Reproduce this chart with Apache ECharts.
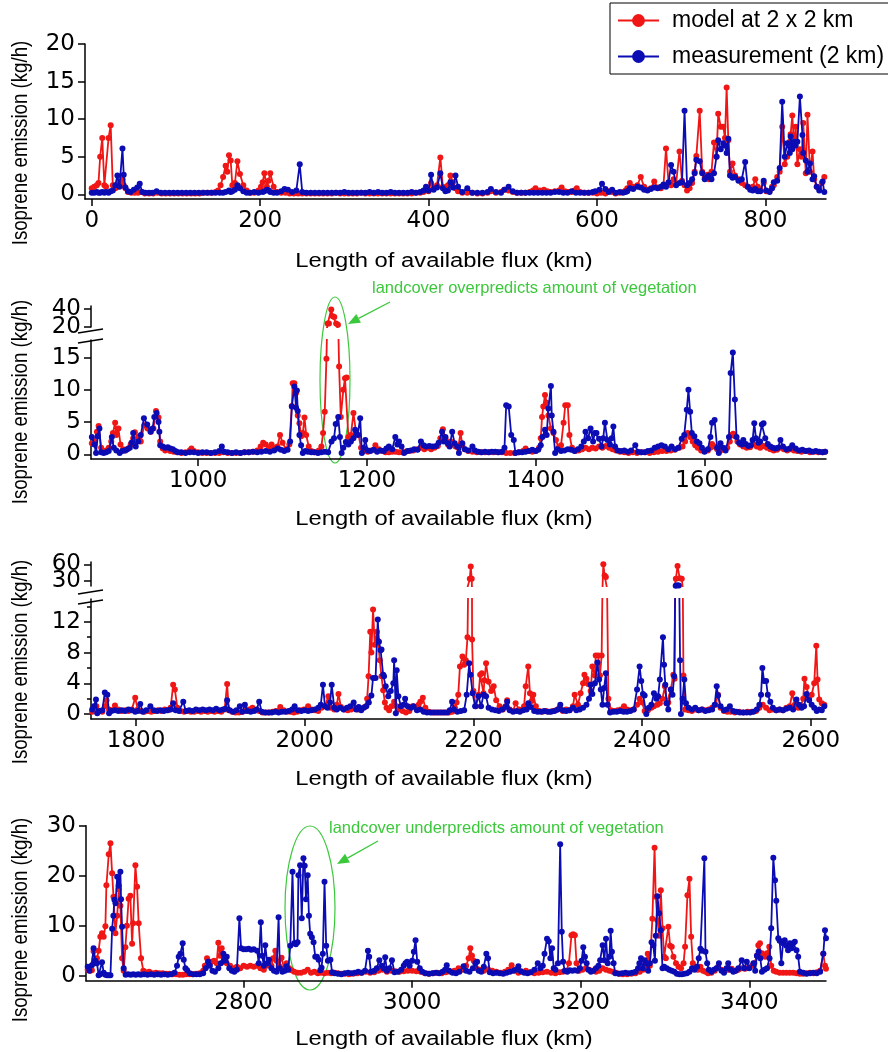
<!DOCTYPE html>
<html><head><meta charset="utf-8">
<script src="https://cdn.jsdelivr.net/npm/echarts@6/dist/echarts.min.js"></script>
<style>html,body{margin:0;padding:0;background:#fff}#c{width:888px;height:1052px}</style>
</head><body><div id="c"></div>
<script>
// ---------- data: [km, kg/h] ----------
const model1 = [[0,0.8],[3,1.0],[6,1.2],[8,1.5],[10,5.0],[12.5,7.5],[15,1.2],[17,1.0],[20,7.5],[22.5,9.2],[25,1.2],[28,0.8],[30.5,1.0],[33,1.5],[36.5,2.0],[38,1.2],[40,0.8],[43,0.3],[47,0.2],[51,0.2],[55,0.2],[59,0.3],[63,0.1],[68,0.1],[73,0.1],[78,0.2],[83,0.1],[88,0.1],[93,0.1],[98,0.1],[103,0.1],[108,0.1],[113,0.1],[118,0.1],[123,0.1],[128,0.1],[133,0.2],[138,0.2],[143,0.2],[147,0.3],[150,0.5],[153,1.2],[156,2.3],[159,3.8],[161,3.0],[163,5.2],[165,4.5],[167,1.2],[170,1.5],[173,4.4],[176,2.7],[180,1.2],[184,0.5],[188,0.2],[193,0.2],[198,0.5],[201,1.0],[203,1.6],[205,2.8],[208,1.0],[210,1.8],[212,2.8],[216,1.0],[220,0.3],[225,0.2],[230,0.2],[235,0.1],[240,0.1],[245,0.1],[250,0.1],[255,0.1],[260,0.1],[265,0.1],[270,0.1],[275,0.1],[280,0.1],[285,0.1],[290,0.2],[295,0.1],[300,0.1],[305,0.1],[310,0.1],[315,0.1],[320,0.2],[325,0.1],[330,0.1],[335,0.1],[340,0.1],[345,0.1],[350,0.1],[355,0.1],[360,0.1],[365,0.1],[370,0.1],[375,0.1],[380,0.1],[385,0.2],[390,0.2],[394,0.3],[397,0.6],[400,0.4],[403,1.5],[406,0.8],[410,1.2],[414,4.9],[417,1.0],[420,0.6],[423,1.2],[426,2.5],[429,1.6],[432,0.8],[435,0.4],[440,0.2],[446,0.2],[452,0.2],[458,0.1],[464,0.1],[470,0.2],[474,0.4],[480,0.2],[486,0.3],[490,0.6],[495,0.5],[500,0.3],[505,0.2],[510,0.2],[515,0.2],[520,0.3],[524,0.5],[527,0.8],[532,0.5],[537,0.6],[541,0.4],[545,0.3],[550,0.4],[555,0.5],[558,0.9],[562,0.4],[566,0.3],[570,0.3],[573,0.5],[576,0.8],[580,0.3],[585,0.2],[590,0.2],[595,0.2],[600,0.1],[605,0.2],[610,0.1],[614,0.4],[618,0.3],[622,0.1],[627,0.2],[631,0.3],[634,0.5],[636,0.8],[639,1.5],[643,1.0],[648,1.2],[652,2.3],[656,1.0],[660,0.6],[664,0.8],[668,1.7],[672,0.9],[676,0.8],[679,1.2],[682,6.1],[685,1.5],[688,1.2],[691,2.0],[694,1.4],[698,5.7],[701,1.8],[704,1.2],[707,0.5],[710,0.8],[713,1.5],[716,3.0],[718,5.1],[722,11.1],[725,3.0],[728,2.2],[731,2.6],[733,2.0],[736,3.0],[739,6.9],[742,5.0],[744,10.7],[747,9.0],[750,9.0],[752,7.5],[754,14.2],[756,7.2],[758,3.0],[761,4.1],[764,2.5],[768,2.0],[772,1.5],[776,1.2],[779,1.0],[782,0.8],[785,1.0],[788,2.0],[791,1.0],[794,0.6],[798,1.5],[801,0.4],[805,0.4],[808,1.0],[810,1.2],[814,2.3],[817,3.0],[820,9.0],[823,4.0],[826,5.0],[829,7.0],[830,8.0],[832,10.5],[834,6.5],[836,9.0],[838,4.0],[841,6.0],[843,5.0],[845,9.5],[848,2.8],[850,10.6],[853,3.0],[856,5.7],[858,2.0],[861,1.0],[864,0.8],[867,1.5],[870,2.3]];
const meas1 = [[0,0.2],[3,0.2],[6,0.3],[8,0.2],[10,0.2],[12.5,0.3],[15,0.2],[17,0.3],[20,0.2],[22.5,0.4],[25,0.5],[28,1.2],[30.5,2.5],[33,1.0],[36.5,6.1],[38,2.6],[40,0.9],[43,0.4],[46,0.3],[50,0.6],[54,0.9],[57,1.4],[60,0.3],[64,0.2],[68,0.2],[72,0.2],[77,0.4],[82,0.2],[87,0.2],[92,0.2],[97,0.2],[102,0.2],[107,0.2],[112,0.2],[117,0.2],[122,0.2],[127,0.2],[132,0.2],[137,0.2],[142,0.2],[147,0.2],[152,0.2],[156,0.2],[159,0.3],[163,0.5],[165,0.3],[167,0.4],[170,0.6],[173,1.2],[176,0.8],[180,0.4],[184,0.2],[188,0.2],[193,0.3],[198,0.2],[203,0.3],[205,0.4],[208,0.6],[210,0.5],[212,0.3],[216,0.2],[220,0.2],[225,0.4],[229,0.7],[233,0.6],[238,0.3],[243,0.5],[247,4.0],[250,0.3],[255,0.2],[260,0.2],[265,0.2],[270,0.2],[275,0.2],[280,0.2],[285,0.2],[290,0.2],[295,0.2],[300,0.3],[305,0.2],[310,0.2],[315,0.2],[320,0.2],[325,0.2],[330,0.3],[335,0.2],[340,0.3],[345,0.2],[350,0.2],[355,0.3],[360,0.2],[365,0.2],[370,0.2],[375,0.2],[380,0.3],[385,0.2],[390,0.3],[394,0.5],[397,1.0],[400,0.5],[403,2.6],[406,0.6],[410,0.9],[414,2.8],[417,0.8],[420,0.4],[423,0.5],[426,1.6],[429,0.9],[432,2.5],[435,1.0],[440,0.3],[446,0.8],[452,0.2],[458,0.2],[464,0.2],[470,0.3],[474,0.7],[480,0.3],[486,0.2],[490,0.6],[495,1.0],[500,0.4],[505,0.2],[510,0.2],[515,0.2],[520,0.2],[525,0.2],[530,0.2],[535,0.2],[540,0.2],[545,0.2],[550,0.3],[555,0.3],[560,0.2],[565,0.2],[570,0.4],[575,0.2],[580,0.2],[585,0.2],[590,0.2],[595,0.3],[598,0.4],[603,0.6],[606,1.4],[610,0.7],[614,0.3],[618,0.6],[622,0.2],[627,0.3],[631,0.2],[634,0.3],[636,0.4],[639,0.8],[643,0.7],[648,1.0],[652,0.9],[656,0.6],[660,0.5],[664,0.7],[668,0.9],[672,0.8],[676,1.0],[679,1.3],[682,1.0],[685,1.6],[688,3.9],[691,3.0],[694,1.2],[698,1.5],[701,1.6],[704,11.1],[707,1.2],[710,1.5],[713,2.0],[716,2.8],[718,4.6],[722,4.4],[725,2.8],[728,2.0],[731,2.3],[733,2.5],[736,2.0],[739,2.8],[742,5.0],[744,7.2],[747,6.0],[750,6.8],[752,6.5],[754,5.5],[756,7.4],[758,2.5],[761,2.2],[764,2.3],[768,1.8],[772,2.0],[776,4.3],[779,1.0],[782,0.6],[785,0.5],[788,0.7],[791,0.4],[794,0.4],[798,1.8],[801,0.5],[805,0.3],[808,0.8],[810,1.6],[814,1.8],[817,3.5],[820,12.3],[823,5.0],[826,6.8],[829,5.5],[830,7.7],[832,6.0],[834,7.0],[836,6.5],[838,7.0],[841,13.0],[844,7.9],[845,5.5],[848,4.5],[850,3.0],[853,4.1],[856,2.0],[858,2.4],[861,1.0],[864,0.5],[868,1.7],[870,0.3]];

const model2 = [[874,1.7],[877,2.0],[880,3.5],[882,4.4],[885,1.0],[888,0.5],[891,0.6],[894,1.0],[897,2.0],[899,3.3],[901.6,4.9],[903,3.0],[905.5,4.0],[908,1.5],[911,0.8],[914,0.6],[917,0.9],[920,1.5],[923,2.5],[925,3.4],[929,2.7],[932,2.0],[936,4.5],[940,4.0],[944,3.5],[947,4.0],[950,6.7],[953,5.7],[955,2.0],[958,0.9],[961,0.6],[964,0.8],[967,0.5],[971,0.4],[975,0.3],[980,0.2],[985,0.3],[990,0.6],[992,0.9],[995,0.5],[1000,0.3],[1005,0.2],[1010,0.2],[1015,0.2],[1020,0.2],[1025,0.2],[1030,0.3],[1035,0.2],[1040,0.2],[1045,0.2],[1050,0.2],[1055,0.3],[1060,0.3],[1065,0.4],[1070,0.6],[1074,1.2],[1077,1.8],[1080,1.5],[1084,1.0],[1087,1.5],[1090,1.0],[1094,1.2],[1097,3.0],[1100,1.8],[1104,0.8],[1108,1.5],[1111,7.5],[1112,11.0],[1114,11.0],[1116,9.5],[1118,6.0],[1120,4.8],[1122,2.8],[1124,3.3],[1126,5.7],[1128,3.0],[1131,1.2],[1134,0.5],[1137,0.3],[1140,0.3],[1143,0.6],[1146,1.2],[1148,3.3],[1150,6.6],[1152,14.8],[1153.5,24],[1155,24],[1157.7,39.5],[1159.5,32],[1161.3,31],[1163.5,24],[1165.6,22.5],[1167,13.6],[1169,5.8],[1172,10],[1174,11.8],[1176,11.9],[1178,2.7],[1181,3.0],[1184,6.4],[1187,3.5],[1190,3.0],[1193,1.0],[1197,0.5],[1201,0.4],[1205,0.6],[1210,1.4],[1214,0.8],[1218,0.5],[1222,0.3],[1226,0.3],[1230,0.4],[1234,0.4],[1238,0.3],[1242,0.3],[1246,0.4],[1250,0.5],[1255,0.6],[1260,0.8],[1264,1.0],[1268,0.8],[1272,1.0],[1276,0.8],[1280,1.0],[1284,1.3],[1287,2.5],[1290,3.9],[1293,2.5],[1296,1.5],[1299,2.0],[1302,1.5],[1305,1.2],[1308,1.0],[1311,3.3],[1313,1.4],[1316,0.8],[1320,0.5],[1325,0.4],[1330,0.3],[1335,0.3],[1340,0.3],[1345,0.3],[1350,0.3],[1355,0.3],[1360,0.3],[1365,0.2],[1370,0.2],[1375,0.2],[1380,0.3],[1385,0.5],[1388,0.9],[1392,0.5],[1396,0.4],[1400,0.5],[1404,1.0],[1406,2.5],[1407.5,5.8],[1409,7.4],[1411,9.2],[1413,8.0],[1415,6.0],[1418,4.0],[1421,3.3],[1424,2.2],[1427,1.0],[1430,1.4],[1433,4.9],[1435,7.6],[1438,7.6],[1440,3.0],[1443,1.0],[1447,0.5],[1451,0.6],[1455,0.8],[1459,1.0],[1463,0.8],[1467,1.0],[1471,0.9],[1475,1.2],[1479,1.0],[1483,1.3],[1487,1.0],[1491,0.8],[1495,0.6],[1500,0.4],[1505,0.3],[1510,0.2],[1515,0.3],[1520,0.2],[1525,0.3],[1530,0.3],[1535,0.2],[1540,0.3],[1545,0.4],[1550,0.5],[1555,0.5],[1560,0.6],[1565,0.7],[1570,1.0],[1574,1.2],[1577,2.0],[1580,3.3],[1583,2.7],[1586,2.0],[1589,1.4],[1592,1.0],[1596,0.6],[1600,0.5],[1604,0.6],[1607,1.0],[1609,1.6],[1612,1.2],[1615,0.8],[1619,0.6],[1623,0.8],[1627,1.0],[1630,2.0],[1632,3.0],[1634,3.2],[1636,2.8],[1639,2.0],[1642,1.5],[1646,1.2],[1650,1.0],[1654,1.1],[1658,1.5],[1662,1.2],[1666,1.0],[1670,1.3],[1674,1.0],[1678,0.8],[1682,0.6],[1686,0.7],[1690,1.0],[1694,0.8],[1698,0.6],[1702,0.8],[1706,0.6],[1710,0.5],[1715,0.4],[1720,0.5],[1725,0.3],[1730,0.4],[1735,0.3],[1740,0.3],[1743,0.4]];
const meas2 = [[874,2.7],[877,1.5],[879,0.2],[881,2.8],[883,4.0],[885,0.3],[888,0.2],[891,0.3],[894,0.5],[897.7,2.7],[900,1.0],[903,0.6],[907,0.2],[910,0.5],[913,0.6],[916,0.8],[919,1.0],[921,1.8],[923,3.3],[926,1.2],[929,2.0],[932,3.0],[935.7,5.6],[939.6,4.6],[943.5,3.5],[946,4.0],[948,5.8],[950.8,6.4],[953,5.0],[954,3.5],[955,1.4],[958,1.2],[961,1.0],[964,1.1],[967,0.9],[970,0.8],[973,0.5],[976,0.3],[980,0.3],[985,0.2],[990,0.3],[995,0.3],[1000,0.2],[1005,0.3],[1010,0.3],[1015,0.2],[1020,0.3],[1025,0.5],[1028,1.2],[1031,0.4],[1035,0.3],[1040,0.2],[1045,0.3],[1050,0.2],[1055,0.3],[1060,0.3],[1065,0.4],[1070,0.3],[1075,0.4],[1080,0.5],[1085,0.4],[1090,0.6],[1094,0.9],[1098,0.7],[1102,0.5],[1106,0.7],[1109,2.0],[1111,7.4],[1114,10.5],[1116,7.2],[1117,9.9],[1118,6.7],[1120,3.0],[1122,1.4],[1124,0.2],[1127,0.5],[1130,0.4],[1134,0.3],[1138,0.3],[1142,0.2],[1146,0.3],[1150,0.4],[1154,0.3],[1158,2.0],[1161,2.5],[1163,4.7],[1166,5.8],[1168,2.7],[1170,0.2],[1172,1.0],[1175,1.9],[1178,1.5],[1181,2.0],[1184,2.5],[1186,3.8],[1189,3.0],[1192,5.6],[1194,0.2],[1196,1.0],[1198,2.2],[1201,0.6],[1204,0.5],[1208,0.7],[1212,0.4],[1216,0.6],[1220,0.5],[1223,0.9],[1226,1.2],[1230,0.8],[1233.6,2.7],[1236,1.5],[1238,2.0],[1241,1.2],[1244,0.2],[1248,0.5],[1252,0.6],[1256,0.8],[1260,0.7],[1264,2.0],[1267,1.4],[1270,1.2],[1274,1.3],[1278,1.2],[1282,1.3],[1285,1.8],[1289,3.5],[1291,2.0],[1293,2.7],[1296,1.7],[1298,1.2],[1301,3.5],[1304,1.7],[1307,1.2],[1309,0.2],[1313,1.7],[1316,0.8],[1320,0.6],[1325,1.2],[1328,0.6],[1332,0.4],[1336,0.3],[1340,0.4],[1344,0.3],[1348,0.4],[1352,0.4],[1356,0.3],[1360,0.4],[1363,1.0],[1365,7.6],[1368,7.4],[1371,3.0],[1374,2.2],[1376,0.2],[1380,0.3],[1384,0.3],[1388,0.4],[1392,0.5],[1396,0.7],[1400,0.5],[1403,0.7],[1406,1.4],[1408,2.7],[1411,3.8],[1413,3.0],[1415,7.1],[1418,10.6],[1419,6.0],[1421,3.5],[1423,0.2],[1426,0.8],[1430,0.5],[1434,0.6],[1438,0.8],[1442,0.7],[1446,0.5],[1450,0.8],[1454,1.2],[1457,2.0],[1459,3.5],[1462,2.5],[1465,4.0],[1468,2.0],[1470,3.3],[1472,3.3],[1475,2.4],[1478,1.2],[1480,2.5],[1482,4.9],[1485,2.2],[1488,1.5],[1490,2.5],[1492,4.3],[1494,1.2],[1497,0.6],[1501,0.5],[1505,0.6],[1509,0.4],[1513,0.6],[1518,1.4],[1521,0.4],[1525,0.3],[1529,0.3],[1533,0.5],[1537,0.6],[1541,1.0],[1545,1.2],[1549,1.4],[1553,1.2],[1557,0.8],[1561,1.2],[1565,0.8],[1569,1.0],[1573,2.4],[1576,3.0],[1579,6.9],[1581,10.0],[1583,6.6],[1585,3.3],[1588,2.8],[1591,2.0],[1594,1.7],[1597,1.0],[1600,0.4],[1604,0.8],[1607,2.7],[1609,4.9],[1612,5.3],[1615,1.0],[1617,0.2],[1619,1.7],[1622,1.0],[1625,0.6],[1629,2.7],[1631,12.6],[1633.6,15.8],[1636,8.5],[1638,2.7],[1641,1.8],[1644,1.5],[1646,2.2],[1649,1.6],[1652,1.3],[1655,1.4],[1657,2.2],[1659,4.8],[1661,2.5],[1664,1.8],[1666,2.0],[1668,4.6],[1670,4.8],[1672,2.5],[1675,1.6],[1678,1.2],[1681,1.0],[1684,0.9],[1687,1.0],[1690,2.2],[1693,1.2],[1697,0.8],[1701,0.9],[1704,1.4],[1708,0.9],[1712,0.6],[1716,0.7],[1720,0.5],[1724,0.6],[1728,0.4],[1732,0.5],[1736,0.4],[1740,0.3],[1743,0.4]];

const model3 = [[1748,0.3],[1751,0.5],[1753,1.0],[1756,0.4],[1760,0.3],[1763,1.0],[1765,1.8],[1768,0.6],[1771,0.5],[1775,1.1],[1779,0.6],[1783,0.4],[1787,0.5],[1791,0.4],[1795,0.6],[1799,2.1],[1802,0.6],[1806,0.4],[1810,0.3],[1814,0.4],[1818,0.3],[1822,0.4],[1826,0.5],[1830,0.4],[1834,0.6],[1838,0.5],[1841,0.8],[1844,3.8],[1846,3.2],[1849,0.8],[1853,0.4],[1857,0.3],[1861,0.4],[1865,0.3],[1869,0.3],[1873,0.4],[1877,0.3],[1881,0.4],[1885,0.3],[1889,0.4],[1893,0.3],[1897,0.4],[1901,0.3],[1905,0.6],[1908,3.9],[1910,0.5],[1914,0.3],[1918,0.2],[1922,0.2],[1926,0.3],[1930,0.4],[1934,0.6],[1938,0.8],[1942,0.5],[1946,0.4],[1950,0.2],[1954,0.2],[1958,0.2],[1962,0.3],[1966,0.4],[1971,0.9],[1975,0.5],[1979,0.3],[1983,0.3],[1987,0.2],[1991,0.3],[1995,0.5],[1999,0.6],[2004,1.0],[2008,0.6],[2012,0.5],[2016,0.4],[2020,0.8],[2024,1.0],[2028,2.3],[2031,0.8],[2035,0.6],[2038,1.2],[2040,2.6],[2043,0.9],[2047,0.6],[2051,0.5],[2055,0.6],[2059,0.8],[2063,0.6],[2067,0.7],[2071,0.9],[2074,2.0],[2075.7,4.9],[2077.7,10.7],[2079,8.0],[2081,13.6],[2083,9.0],[2085.6,10.7],[2087,9.5],[2089,7.0],[2091,4.9],[2093,3.1],[2095,1.5],[2097,0.8],[2100,0.5],[2103,1.0],[2106,1.6],[2109,1.0],[2112,0.6],[2116,0.4],[2120,0.2],[2124,0.4],[2128,1.0],[2132,0.8],[2135,1.2],[2137,1.6],[2140,2.1],[2143,0.8],[2147,0.3],[2151,0.2],[2155,0.2],[2159,0.2],[2163,0.2],[2167,0.2],[2171,0.2],[2175,0.3],[2178,0.8],[2180,1.5],[2182,2.5],[2184,6.2],[2187,7.5],[2189,6.4],[2191,7.0],[2193,10.0],[2195.7,34],[2196.8,56],[2198,34],[2198.4,9.7],[2200,3.0],[2203,1.0],[2206,2.5],[2208,5.1],[2210,5.3],[2212,2.7],[2213,4.4],[2215,6.6],[2218,4.2],[2221,3.0],[2224,3.6],[2227,1.8],[2231,1.0],[2235,0.6],[2238,1.0],[2240,1.8],[2243,0.6],[2247,0.4],[2250,1.4],[2254,0.6],[2258,0.5],[2260,1.0],[2262,3.6],[2265,6.2],[2267,2.7],[2269,1.7],[2271,2.5],[2274,1.0],[2278,0.4],[2282,0.3],[2286,0.4],[2290,0.3],[2294,0.4],[2298,0.5],[2302,0.8],[2306,0.4],[2310,0.6],[2314,0.5],[2318,1.0],[2320,2.5],[2324,1.2],[2327,2.7],[2330,4.0],[2331.6,5.1],[2334,4.6],[2336,3.9],[2339,3.0],[2341,6.2],[2344,5.0],[2345,7.6],[2348,7.6],[2350,5.0],[2352,7.6],[2353,16.6],[2354,60],[2355.5,40],[2357,37],[2358.5,16],[2360,2.0],[2363,0.5],[2367,0.4],[2371,0.5],[2375,0.6],[2378.5,1.0],[2382,0.6],[2386,0.5],[2390,0.6],[2394,1.2],[2397,2.0],[2400,1.5],[2403,0.4],[2407,0.5],[2411,0.8],[2414,1.0],[2418,1.2],[2421,1.4],[2424,2.0],[2427,3.6],[2429,1.4],[2431,1.5],[2434,3.2],[2437,5.1],[2438.5,4.6],[2440,34],[2442,57],[2444.5,35],[2447,34],[2449,5],[2451,0.6],[2455,0.5],[2459,0.4],[2463,0.6],[2467,0.5],[2471,0.6],[2475,0.5],[2479,0.6],[2483,0.8],[2487,1.2],[2490,2.5],[2493,0.8],[2497,0.4],[2501,0.3],[2505,0.3],[2510,0.2],[2515,0.3],[2520,0.2],[2525,0.3],[2530,0.3],[2535,0.4],[2539,0.8],[2543,1.2],[2547,0.8],[2551,0.5],[2555,0.6],[2559,0.5],[2563,0.6],[2567,0.5],[2571,0.8],[2575,1.0],[2578,2.7],[2581,1.2],[2585,0.8],[2588,1.0],[2591,2.0],[2592.5,4.6],[2595,3.5],[2598,2.0],[2601,2.5],[2604,4.0],[2606.5,8.9],[2608,4.5],[2610,1.9],[2613,1.4],[2616,1.2]];
const meas3 = [[1748,0.6],[1750,1.0],[1752.5,1.9],[1754,0.1],[1757,0.4],[1760,0.5],[1763,2.8],[1766,2.5],[1768,0.1],[1771,0.4],[1775,0.5],[1779,0.4],[1783,0.5],[1787,0.4],[1791,0.6],[1795,0.5],[1799,0.3],[1802,0.4],[1805,1.3],[1808,0.3],[1812,0.5],[1817,1.0],[1821,0.5],[1825,0.4],[1829,0.5],[1833,0.4],[1837,0.5],[1841,0.6],[1844,1.4],[1847,0.5],[1851,0.4],[1856,1.6],[1859,0.4],[1863,0.5],[1867,0.4],[1871,0.6],[1875,0.5],[1879,0.6],[1883,0.5],[1887,0.6],[1891,0.5],[1895,0.7],[1899,0.5],[1903,0.6],[1906,0.7],[1908,1.8],[1911,0.5],[1915,0.3],[1919,0.5],[1923,1.0],[1926,0.3],[1929,1.2],[1932,0.4],[1936,0.3],[1940,0.4],[1943,0.6],[1946,1.6],[1949,0.3],[1953,0.2],[1957,0.2],[1961,0.2],[1965,0.3],[1969,0.2],[1973,0.3],[1977,0.3],[1981,0.4],[1985,0.6],[1988,1.0],[1992,0.5],[1996,0.4],[2000,0.5],[2004,0.4],[2008,0.5],[2012,0.6],[2016,0.8],[2019,1.2],[2021.6,3.8],[2024,1.0],[2027,0.8],[2030,1.5],[2032,3.8],[2035,0.8],[2038,0.6],[2042,0.8],[2046,0.6],[2050,0.8],[2054,1.0],[2058,1.5],[2061,0.6],[2064,0.9],[2067,0.5],[2070,0.8],[2073,1.0],[2076,1.5],[2079,2.4],[2081,4.7],[2084,4.7],[2086.6,12.3],[2088,9.4],[2090,8.3],[2091,8.4],[2093,5.1],[2094,4.9],[2096,3.6],[2099,2.3],[2102,3.0],[2105,4.0],[2106,7.0],[2108,0.1],[2109,5.7],[2111,2.3],[2114,1.0],[2117,1.2],[2119,2.0],[2122,1.0],[2126,0.8],[2129,1.0],[2133,0.5],[2137,0.6],[2141,0.3],[2145,0.2],[2149,0.2],[2153,0.2],[2157,0.2],[2161,0.2],[2165,0.2],[2169,0.2],[2172,0.5],[2174.7,1.6],[2177,0.6],[2181,0.3],[2185,0.4],[2189,0.5],[2192,2.5],[2195,6.6],[2196.5,5.1],[2199,2.7],[2202,1.0],[2206,2.3],[2209,1.0],[2212,2.5],[2215,2.3],[2218,0.8],[2222,0.6],[2226,0.5],[2230,0.4],[2234,0.6],[2238,0.9],[2240,1.6],[2243,0.5],[2247,0.3],[2251,0.4],[2255,0.3],[2259,0.5],[2263,0.6],[2265,1.4],[2268,0.9],[2272,0.4],[2276,0.3],[2280,0.3],[2284,0.4],[2288,0.3],[2292,0.3],[2296,0.4],[2300,0.6],[2303,1.2],[2306,0.5],[2310,0.4],[2314,0.5],[2318,0.8],[2322,0.5],[2326,0.6],[2330,0.8],[2334,1.2],[2337,2.0],[2339,3.8],[2341,2.6],[2344,4.0],[2347,6.7],[2349,4.5],[2351,3.2],[2353,1.2],[2355,3.4],[2357,5.3],[2359,1.2],[2362,0.2],[2366,0.3],[2370,0.3],[2374,0.4],[2378,0.3],[2382,0.3],[2386,0.4],[2390,0.6],[2394,3.2],[2397,6.2],[2399,4.3],[2401,2.6],[2403,2.4],[2405,0.0],[2408,0.8],[2411,1.2],[2414,2.7],[2417,2.0],[2419,2.3],[2421,4.5],[2424.7,10.0],[2426,6.4],[2427.5,3.8],[2429,1.4],[2431,0.6],[2434,3.2],[2436,2.5],[2438,4.9],[2439.8,21.5],[2441.7,22.5],[2443.5,22],[2445,7.0],[2446,0.0],[2448,2.0],[2450,4.5],[2452,1.4],[2455,0.8],[2459,0.6],[2463,0.8],[2467,0.5],[2471,0.6],[2475,0.4],[2479,0.5],[2483,0.6],[2486,1.2],[2488.4,3.6],[2490,2.4],[2493,1.0],[2497,0.5],[2500,0.6],[2504,1.0],[2508,0.4],[2512,0.3],[2516,0.2],[2520,0.2],[2524,0.2],[2528,0.2],[2532,0.3],[2536,0.6],[2539,1.2],[2541,2.5],[2542.6,6.0],[2544.5,4.3],[2547,4.3],[2549,2.5],[2552,1.6],[2555,0.8],[2559,0.5],[2563,0.6],[2567,0.5],[2571,0.7],[2575,0.8],[2579,0.6],[2583,1.9],[2586,1.2],[2589,0.8],[2592,1.0],[2595,2.6],[2598,1.8],[2601,1.2],[2604,0.8],[2607,0.4],[2610,0.6],[2613,0.5],[2616,1.0]];

const model4 = [[2615,1.2],[2618,1.0],[2620,1.1],[2622,4.9],[2624,2.5],[2626,3.5],[2628,5.0],[2630,7.8],[2632,8.5],[2634,7.8],[2636,9.9],[2637.2,18.1],[2640,24.3],[2642,26.5],[2644,20.5],[2645.6,15.8],[2647.9,8.5],[2650,12.0],[2651.8,17.3],[2653.8,14.0],[2655.8,3.5],[2657.7,1.0],[2659.7,5.7],[2661.5,10.0],[2663.6,15.4],[2665.6,16.0],[2667.7,6.4],[2668.9,10.5],[2671.6,22.1],[2673.6,17.8],[2675.5,10.5],[2678.3,3.5],[2681,1.0],[2684,0.7],[2688,0.8],[2692,0.5],[2696,0.6],[2700,0.5],[2704,0.5],[2708,0.4],[2712,0.4],[2716,0.3],[2720,0.3],[2724,0.2],[2728,0.2],[2732,0.3],[2736,0.3],[2740,0.3],[2744,0.4],[2748,0.5],[2752,1.0],[2754,2.0],[2756.6,3.5],[2759,2.5],[2762,2.8],[2765,3.0],[2768,2.5],[2770,6.6],[2772,4.0],[2774,5.5],[2777,2.8],[2780,2.5],[2784,2.0],[2788,1.5],[2792,1.8],[2796,1.5],[2800,2.0],[2804,1.8],[2808,2.0],[2812,1.8],[2816,2.0],[2820,1.5],[2824,1.2],[2827,2.0],[2830,3.0],[2833,2.0],[2835,3.5],[2837.6,5.0],[2839,3.0],[2842,2.0],[2845,3.6],[2848,1.5],[2851,2.5],[2854,1.5],[2857,1.1],[2860,0.8],[2864,0.6],[2868,0.6],[2872,0.8],[2876,1.2],[2880,0.6],[2884,0.8],[2888,0.5],[2892,0.6],[2896,0.5],[2900,0.6],[2904,0.5],[2908,0.6],[2912,0.5],[2916,0.4],[2920,0.4],[2925,0.3],[2930,0.4],[2935,0.5],[2940,0.6],[2945,0.8],[2950,0.6],[2955,0.7],[2960,1.0],[2965,1.2],[2970,0.8],[2975,1.0],[2980,0.9],[2985,0.8],[2990,0.9],[2995,1.0],[3000,1.0],[3005,0.9],[3010,0.8],[3015,0.5],[3020,0.4],[3025,0.5],[3030,0.6],[3035,0.5],[3040,0.7],[3045,0.8],[3050,1.0],[3055,1.5],[3060,1.2],[3064,2.0],[3067,3.5],[3069,5.5],[3071,4.0],[3073,3.0],[3076,1.5],[3080,1.2],[3085,1.0],[3090,1.3],[3095,1.0],[3100,0.8],[3105,0.6],[3110,0.8],[3114,1.2],[3118,2.1],[3122,1.0],[3126,0.6],[3130,0.8],[3135,1.0],[3140,0.7],[3145,0.5],[3150,0.6],[3155,0.7],[3160,0.8],[3165,0.6],[3170,0.5],[3175,0.7],[3179,0.8],[3183,1.0],[3186,2.5],[3189,8.1],[3191,8.3],[3193,8.1],[3195,2.5],[3198,1.0],[3202,1.2],[3206,1.5],[3210,1.2],[3214,1.0],[3218,0.8],[3222,1.0],[3226,1.5],[3230,1.2],[3234,1.0],[3238,0.8],[3242,0.6],[3246,0.4],[3250,0.3],[3255,0.3],[3260,0.4],[3265,0.5],[3270,0.8],[3274,1.2],[3277,2.0],[3279.5,4.4],[3282,2.0],[3285,11.4],[3287.6,25.6],[3289,15.8],[3291,11.1],[3293,8.0],[3295,17.1],[3297,9.5],[3299,3.8],[3301,3.5],[3304,9.8],[3306,6.0],[3308,5.8],[3310,3.8],[3313,2.5],[3316,1.8],[3319,1.5],[3322,2.5],[3323.8,5.8],[3326.6,16.1],[3329,19.4],[3331,7.8],[3333,2.5],[3336,1.5],[3339,1.2],[3342,1.8],[3345,1.0],[3348,0.8],[3351,0.5],[3355,0.6],[3359,1.0],[3363,1.8],[3367,1.2],[3371,1.0],[3375,1.2],[3379,1.4],[3383,1.0],[3387,1.2],[3391,1.5],[3395,1.4],[3399,1.6],[3403,2.0],[3406,2.5],[3409,4.0],[3410.7,6.1],[3412.7,6.5],[3415,4.5],[3418.6,3.8],[3421,4.5],[3423.7,5.8],[3426,2.0],[3429,1.0],[3432,0.8],[3436,0.6],[3440,0.6],[3444,0.6],[3448,0.6],[3452,0.6],[3456,0.5],[3460,0.4],[3464,0.4],[3468,0.5],[3472,0.6],[3476,0.5],[3480,0.7],[3484,1.0],[3487.8,4.4],[3489.8,2.0],[3491,1.4]];
const meas4 = [[2615,1.8],[2617,1.0],[2620,2.1],[2622,5.5],[2624,3.0],[2626,2.5],[2628,0.1],[2630,0.3],[2632,2.7],[2634,0.6],[2636,0.2],[2638,0.1],[2640,0.1],[2642,0.1],[2644,9.4],[2645.5,12.0],[2646.7,15.2],[2648,14.5],[2650,19.8],[2651.8,18.0],[2653.8,20.8],[2654.6,15.3],[2655.8,9.8],[2657.7,1.5],[2660,0.2],[2663,0.3],[2666,0.2],[2669,0.3],[2672,0.2],[2675,0.3],[2678,0.2],[2682,0.3],[2686,0.2],[2690,0.3],[2694,0.2],[2698,0.3],[2702,0.2],[2706,0.3],[2710,0.2],[2714,0.3],[2718,0.6],[2721,2.0],[2723,3.8],[2725,4.4],[2727.7,6.5],[2729,3.2],[2731,1.5],[2733,1.1],[2736,0.5],[2740,0.3],[2744,0.3],[2748,0.3],[2752,0.5],[2755,1.5],[2758,2.8],[2760,2.0],[2763,1.0],[2766,0.8],[2770,1.5],[2773,2.5],[2776,4.4],[2778,3.0],[2780,3.8],[2783,1.5],[2786,1.0],[2789,0.8],[2792,1.2],[2795,11.5],[2797,5.5],[2800,5.3],[2803,5.3],[2806,5.4],[2809,5.2],[2812,5.3],[2816,5.0],[2818,2.5],[2820.4,10.7],[2822,4.0],[2824,2.0],[2825.7,6.1],[2828,2.5],[2830,3.2],[2833,1.5],[2836,1.0],[2839,0.8],[2841.5,11.7],[2843,1.5],[2846,0.8],[2849,1.0],[2851,1.9],[2853,1.2],[2855.4,6.0],[2858,20.8],[2860,6.5],[2862,6.3],[2864,6.7],[2865,20.1],[2867,22.1],[2869,11.5],[2871,23.5],[2872.5,22.0],[2874,15.3],[2876,20.1],[2877.5,12.0],[2879,8.4],[2881,7.7],[2883,6.7],[2885,3.8],[2887,3.8],[2889,3.2],[2891,1.1],[2892.5,1.6],[2894,4.4],[2896,18.8],[2898,6.0],[2900,3.0],[2903,3.2],[2905,0.7],[2908,0.5],[2912,0.4],[2916,0.3],[2920,0.5],[2924,0.6],[2928,0.5],[2932,0.6],[2936,0.8],[2940,0.6],[2944,1.0],[2947.5,5.0],[2949,3.8],[2951,0.8],[2955,1.0],[2958,1.5],[2961,3.1],[2964,2.0],[2966,1.5],[2968,3.7],[2970,1.0],[2973,1.5],[2976,3.1],[2979,0.7],[2983,0.8],[2987,1.2],[2990,2.0],[2992,2.5],[2994,2.8],[2997,2.0],[3000,3.0],[3002,4.8],[3004,7.1],[3006,2.8],[3009,1.5],[3012,0.8],[3016,0.5],[3020,0.4],[3024,0.5],[3028,0.6],[3032,0.5],[3036,0.8],[3039,1.2],[3041,2.1],[3044,1.0],[3048,0.6],[3052,0.5],[3056,0.8],[3061,1.9],[3064,1.0],[3068,0.8],[3072,1.5],[3075,2.5],[3077,2.8],[3079,1.0],[3082,0.8],[3085,1.8],[3088,4.4],[3090,3.5],[3092,0.7],[3096,0.5],[3100,0.6],[3104,0.5],[3108,0.4],[3112,0.6],[3116,0.8],[3120,1.0],[3123,1.2],[3126,1.9],[3129,0.9],[3133,0.6],[3137,0.5],[3141,0.7],[3145,1.2],[3149,2.5],[3152,1.5],[3155,2.0],[3157,4.4],[3160,7.4],[3162,6.9],[3164,3.5],[3166,5.5],[3168,1.5],[3170,1.2],[3173,2.5],[3175.6,26.3],[3177.5,8.8],[3179,2.8],[3181,1.0],[3184,0.8],[3187,1.1],[3190,1.0],[3193,1.1],[3196,1.0],[3199,1.5],[3201,3.0],[3203,5.7],[3205,3.8],[3207,2.5],[3209,1.2],[3212,0.8],[3215,1.0],[3218,1.5],[3221,2.0],[3223,3.1],[3226,6.1],[3228,3.1],[3230,7.4],[3232,2.5],[3234,3.8],[3235.5,9.0],[3237,4.8],[3239,2.5],[3241,0.5],[3245,0.4],[3249,0.5],[3253,0.6],[3257,0.5],[3261,0.6],[3265,0.8],[3268,1.5],[3269.6,2.5],[3271.5,3.5],[3273.5,1.5],[3276,3.1],[3278,2.5],[3280,1.0],[3282,2.5],[3284,6.7],[3286,6.1],[3288,3.0],[3289,8.0],[3291,15.9],[3293,12.5],[3295,9.1],[3297,1.5],[3299,1.8],[3302,1.5],[3305,1.2],[3308,1.0],[3311,0.8],[3314,0.4],[3317,0.3],[3320,0.3],[3323,0.4],[3326,0.5],[3329,0.8],[3332,1.5],[3335,1.2],[3338,1.8],[3340,3.5],[3342,5.4],[3344,5.0],[3346.7,23.5],[3348,4.8],[3350,2.5],[3352,1.2],[3355,0.8],[3358,1.2],[3361,1.5],[3364,2.5],[3367,1.0],[3370,0.6],[3373,1.5],[3375,2.5],[3378,1.2],[3381,0.8],[3384,1.0],[3387,1.5],[3391,3.1],[3394,1.5],[3397,2.8],[3400,1.5],[3404.8,2.5],[3407,1.0],[3409,4.0],[3411,4.8],[3413,3.5],[3415,0.8],[3418,1.2],[3421,1.5],[3424,3.5],[3426,9.5],[3428.5,23.6],[3430.5,19.1],[3432,15.0],[3434.4,7.5],[3436,7.0],[3438,2.5],[3440,6.5],[3442,7.1],[3444,6.0],[3446,5.1],[3448,6.5],[3450,5.5],[3452,6.5],[3454,6.8],[3456,5.1],[3458,3.8],[3460,0.8],[3464,0.6],[3468,0.4],[3472,0.5],[3476,0.6],[3480,0.5],[3484,0.8],[3487.8,4.4],[3489.8,9.1],[3491,7.5]];

// ---------- ticks / labels ----------
const xTicks1 = [0,200,400,600,800];
const yTicks1 = [0,5,10,15,20];
const xTicks2 = [1000,1200,1400,1600];
const yTicks2Low = [0,5,10,15];
const yTicks2Top = [40];
const yTicks2Mid = [20];
const xTicks3 = [1800,2000,2200,2400,2600];
const yTicks3Low = [0,4,8,12];
const yTicks3Minor = [2,6,10,14];
const yTicks3Top = [60];
const yTicks3Mid = [30];
const xTicks4 = [2800,3000,3200,3400];
const yTicks4 = [0,10,20,30];
const names = ['model at 2 x 2 km','measurement (2 km)'];
const xTitle = 'Length of available flux (km)';
const yTitle = 'Isoprene emission (kg/h)';
const note2 = 'landcover overpredicts amount of vegetation';
const note4 = 'landcover underpredicts amount of vegetation';

const RED = '#f01616', BLUE = '#0c0cb4', GREEN = '#3cc83c';
const TICKFONT = 'DejaVu Sans';
const TICKSIZE = 23;

const grids = [
  {left:85, top:44, width:741, height:155},
  {left:91, top:306, width:735, height:21.1},
  {left:91, top:340, width:735, height:119},
  {left:91, top:562, width:735, height:24.1},
  {left:91, top:599, width:735, height:120},
  {left:86, top:825.7, width:740, height:155}
];
const plain = v => String(v);

function xAx(gi, min, max, ticks, show){
  return {type:'value', gridIndex:gi, min, max, show,
    axisLine:{show:true, onZero:false, lineStyle:{color:'#000', width:1.5}},
    axisTick:{show:true, inside:false, length:7, customValues:ticks, lineStyle:{color:'#000', width:1.5}},
    axisLabel:{show:true, customValues:ticks, formatter:plain, margin:11, fontSize:TICKSIZE, color:'#000', fontFamily:TICKFONT},
    splitLine:{show:false}};
}
function yAx(gi, min, max, ticks, opt){
  opt = opt || {};
  return {type:'value', gridIndex:gi, min, max, position:'left', offset:0,
    axisLine:{show: opt.noLine ? false : true, onZero:false, lineStyle:{color:'#000', width:1.5}},
    axisTick:{show:true, inside:false, length: opt.len || 7, customValues:ticks, lineStyle:{color:'#000', width:1.5}},
    axisLabel:{show: opt.noLabel ? false : true, customValues:ticks, formatter:plain, margin:10, fontSize:TICKSIZE, color:'#000', fontFamily:TICKFONT},
    splitLine:{show:false}};
}

const xAxes = [
  xAx(0, -8, 872, xTicks1, true),
  xAx(1, 873, 1744, xTicks2, false),
  xAx(2, 873, 1744, xTicks2, true),
  xAx(3, 1746.6, 2618, xTicks3, false),
  xAx(4, 1746.6, 2618, xTicks3, true),
  xAx(5, 2613, 3491, xTicks4, true)
];
const yAxes = [
  yAx(0, -0.63, 20, yTicks1),
  yAx(1, 19.9, 43.3, yTicks2Top),
  yAx(2, -0.73, 17.72, yTicks2Low),
  yAx(3, 20.8, 64.1, yTicks3Top),
  yAx(4, -0.65, 14.97, yTicks3Low),
  yAx(5, -1.0, 30, yTicks4),
  yAx(4, -0.65, 14.97, yTicks3Minor, {noLine:true, noLabel:true, len:4}),
  yAx(1, 19.9, 43.3, yTicks2Mid, {noLine:true}),
  yAx(3, 20.8, 64.1, yTicks3Mid, {noLine:true})
];

function ser(name, data, gi, color, z){
  return {type:'line', name, data, xAxisIndex:gi, yAxisIndex:gi, symbol:'circle', symbolSize:6,
    showSymbol:true, lineStyle:{width:1.8, color}, itemStyle:{color}, animation:false, z, clip:true,
    emphasis:{disabled:true}, silent:true};
}
const series = [
  ser(names[0], model1, 0, RED, 2), ser(names[1], meas1, 0, BLUE, 3),
  ser(names[0], model2, 1, RED, 2), ser(names[1], meas2, 1, BLUE, 3),
  ser(names[0], model2, 2, RED, 2), ser(names[1], meas2, 2, BLUE, 3),
  ser(names[0], model3, 3, RED, 2), ser(names[1], meas3, 3, BLUE, 3),
  ser(names[0], model3, 4, RED, 2), ser(names[1], meas3, 4, BLUE, 3),
  ser(names[0], model4, 5, RED, 2), ser(names[1], meas4, 5, BLUE, 3)
];

function arrow(x1,y1,x2,y2,color){
  const a = Math.atan2(y2-y1, x2-x1), L = 12, W = 5;
  const bx = x2 - L*Math.cos(a), by = y2 - L*Math.sin(a);
  const px = -Math.sin(a)*W, py = Math.cos(a)*W;
  return [
    {type:'line', shape:{x1, y1, x2:bx, y2:by}, style:{stroke:color, lineWidth:1.3}},
    {type:'polygon', shape:{points:[[x2,y2],[bx+px,by+py],[bx-px,by-py]]}, style:{fill:color}}
  ];
}
function brk(y){
  return [
    {type:'line', shape:{x1:78, y1:y+4, x2:103, y2:y}, style:{stroke:'#000', lineWidth:1.3}},
    {type:'line', shape:{x1:78, y1:y+14, x2:103, y2:y+10}, style:{stroke:'#000', lineWidth:1.3}}
  ];
}
const titleFont = '"Liberation Sans", Arial, sans-serif';
function xt(y){ return {type:'text', x:444, y, scaleX:1.22, style:{text:xTitle, fontSize:19.5, fontFamily:titleFont, fill:'#000', align:'center', verticalAlign:'middle'}}; }
function yt(y){ return {type:'text', x:21, y, rotation:Math.PI/2, scaleY:1.15, style:{text:yTitle, fontSize:18.7, fontFamily:titleFont, fill:'#000', align:'center', verticalAlign:'middle'}}; }

const graphic = [
  xt(262), xt(520), xt(780), xt(1040),
  yt(143), yt(402), yt(662), yt(920),
  ...brk(329), ...brk(590),
  {type:'ellipse', shape:{cx:335, cy:380, rx:15, ry:83}, style:{stroke:GREEN, fill:null, lineWidth:1.2}},
  {type:'text', x:372, y:288, style:{text:note2, fontSize:16.5, fontFamily:titleFont, fill:GREEN, align:'left', verticalAlign:'middle'}},
  ...arrow(390, 302, 348, 324, GREEN),
  {type:'ellipse', shape:{cx:310, cy:908, rx:25, ry:82}, style:{stroke:GREEN, fill:null, lineWidth:1.2}},
  {type:'text', x:329, y:828, style:{text:note4, fontSize:16.5, fontFamily:titleFont, fill:GREEN, align:'left', verticalAlign:'middle'}},
  ...arrow(378, 841, 337, 864, GREEN)
];

const chart = echarts.init(document.getElementById('c'), null, {renderer:'canvas'});
chart.setOption({
  animation:false,
  backgroundColor:'#fff',
  grid: grids,
  xAxis: xAxes,
  yAxis: yAxes,
  series,
  legend: {data:names, left:610, top:3, orient:'vertical', itemWidth:41, itemHeight:16, itemGap:13,
    padding:[6,10,6,7], borderColor:'#000', borderWidth:1, backgroundColor:'#fff',
    textStyle:{fontSize:23, color:'#000', fontFamily:titleFont, padding:[0,0,0,8]}, selectedMode:false},
  graphic
});
</script></body></html>
